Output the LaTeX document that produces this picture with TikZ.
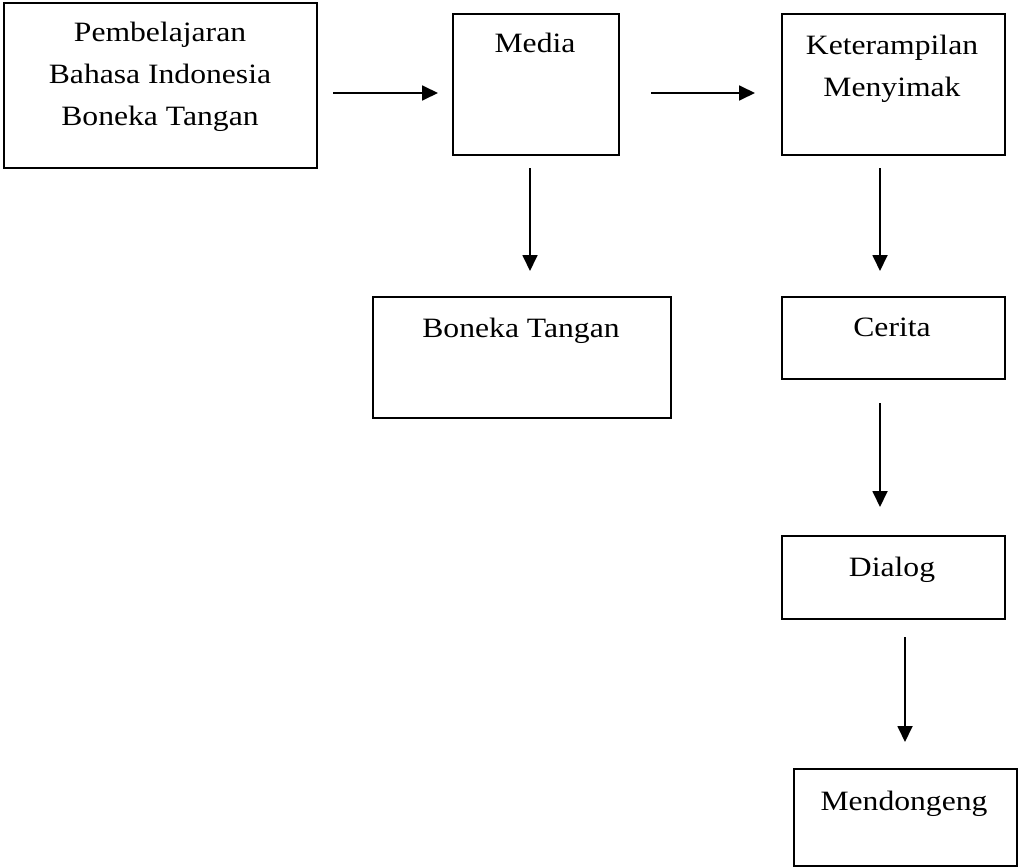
\documentclass[tikz,border=0pt]{standalone}
\usepackage{fontspec}
\setmainfont{Liberation Serif}[FakeStretch=1.13]
\usetikzlibrary{arrows.meta}
\begin{document}
\begin{tikzpicture}[x=1pt,y=-1pt,
  box/.style={draw, line width=1.9pt, anchor=north west, inner sep=0pt},
  txt/.style={font=\fontsize{28}{42}\selectfont, align=center, inner sep=0pt, anchor=base},
  arr/.style={line width=1.8pt, -{Triangle[length=16pt,width=15pt]}}]
\useasboundingbox (0,0) rectangle (1029,867);
% boxes
\node[box, minimum width=313pt, minimum height=165pt] (b1) at (3,2) {};
\node[box, minimum width=166pt, minimum height=141pt] (b2) at (452,13) {};
\node[box, minimum width=223pt, minimum height=141pt] (b3) at (781,13) {};
\node[box, minimum width=298pt, minimum height=121pt] (b4) at (372,296) {};
\node[box, minimum width=223pt, minimum height=82pt] (b5) at (781,296) {};
\node[box, minimum width=223pt, minimum height=83pt] (b6) at (781,535) {};
\node[box, minimum width=223pt, minimum height=97pt] (b7) at (793,768) {};
% texts (anchor = baseline of last line)
\node[txt] (t1) at (160,125) {Pembelajaran\\Bahasa Indonesia\\Boneka Tangan};
\node[txt] (t2) at (535,53) {Media};
\node[txt] (t3) at (892,96) {Keterampilan\\Menyimak};
\node[txt] (t4) at (521,337) {Boneka Tangan};
\node[txt] (t5) at (892,336) {Cerita};
\node[txt] (t6) at (892,576) {Dialog};
\node[txt] (t7) at (904,810) {Mendongeng};
% arrow ends
\coordinate (a1s) at (333,93);  \coordinate (a1e) at (438,93);
\coordinate (a2s) at (651,93);  \coordinate (a2e) at (755,93);
\coordinate (a3s) at (530,168); \coordinate (a3e) at (530,271);
\coordinate (a4s) at (880,168); \coordinate (a4e) at (880,271);
\coordinate (a5s) at (880,403); \coordinate (a5e) at (880,507);
\coordinate (a6s) at (905,637); \coordinate (a6e) at (905,742);
\draw[arr] (a1s) -- (a1e);
\draw[arr] (a2s) -- (a2e);
\draw[arr] (a3s) -- (a3e);
\draw[arr] (a4s) -- (a4e);
\draw[arr] (a5s) -- (a5e);
\draw[arr] (a6s) -- (a6e);
\end{tikzpicture}
\end{document}
